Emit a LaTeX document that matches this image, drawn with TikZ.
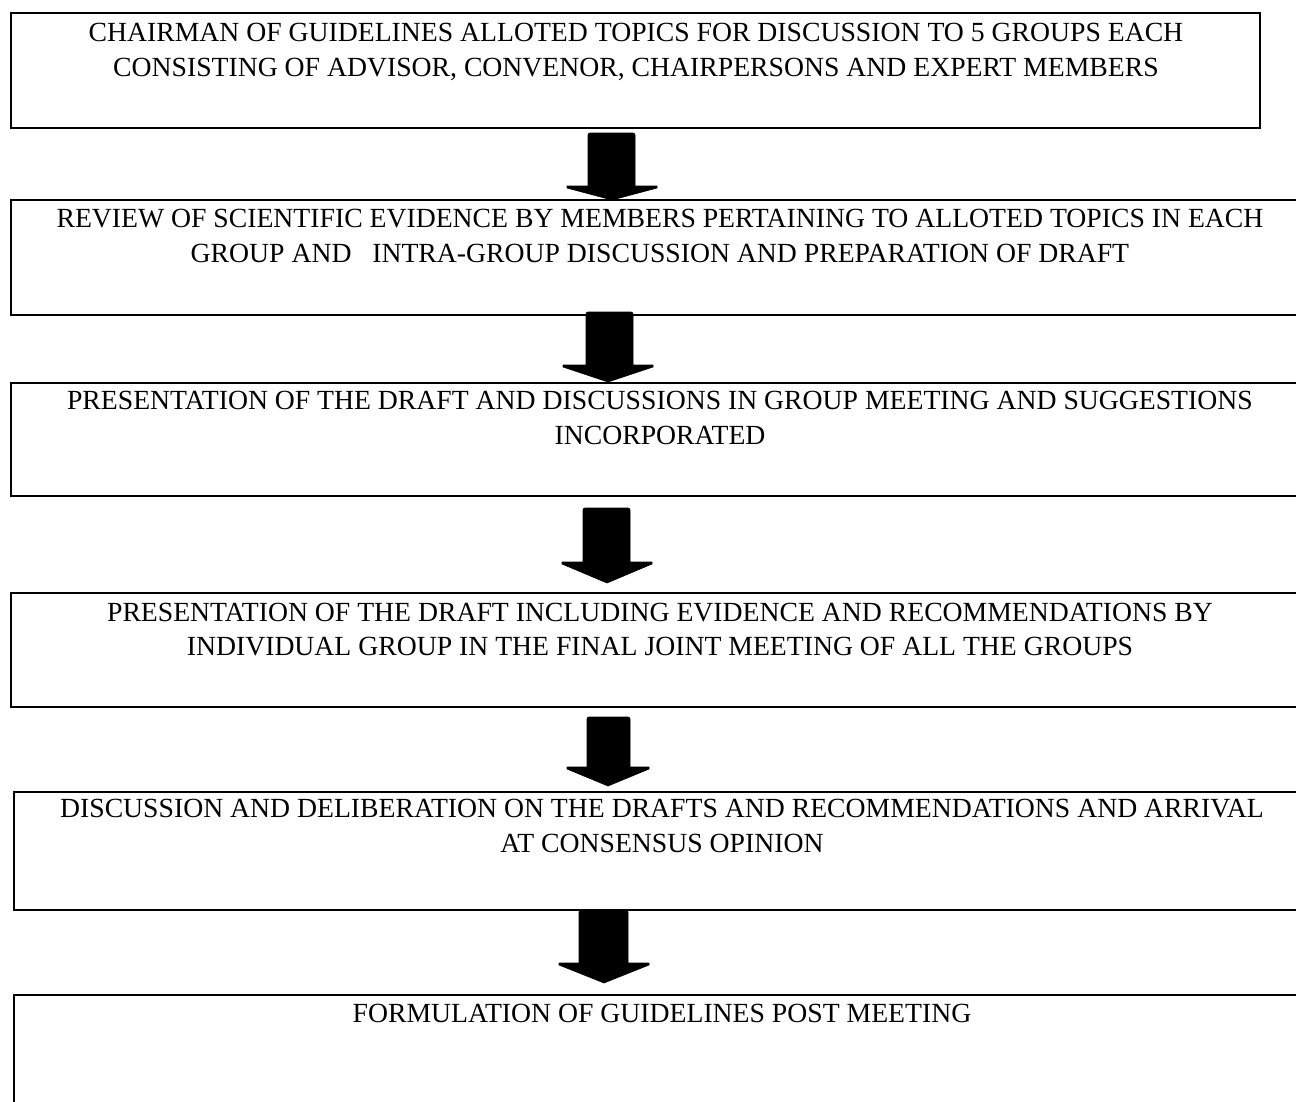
\documentclass[tikz,border=0pt]{standalone}
\usepackage{fontspec}
\setmainfont{Liberation Serif}
\begin{document}
\begin{tikzpicture}[x=1pt,y=-1pt,
  box/.style={draw=black, line width=2.3pt, fill=none, anchor=north west, inner sep=0pt, outer sep=0pt},
  txt/.style={anchor=base, inner sep=0pt, font=\fontsize{27.7}{35}\selectfont},
  blk/.style={fill=black, draw=black, line width=0.6pt, line join=round}]
\useasboundingbox (0,0) rectangle (1296,1101);
\fill[white] (0,0) rectangle (1296,1101);
% boxes
\node[box, minimum width=1249pt, minimum height=115pt] (b1) at (11,13) {};
\node[box, minimum width=1299pt, minimum height=115pt] (b2) at (11,200) {};
\node[box, minimum width=1299pt, minimum height=113pt] (b3) at (11,383) {};
\node[box, minimum width=1299pt, minimum height=114pt] (b4) at (11,593) {};
\node[box, minimum width=1296pt, minimum height=118pt] (b5) at (14,792) {};
\node[box, minimum width=1296pt, minimum height=125pt] (b6) at (14,995) {};
% texts
\node[txt] (t1a) at (636,41) {CHAIRMAN OF GUIDELINES ALLOTED TOPICS FOR DISCUSSION TO 5 GROUPS EACH};
\node[txt] (t1b) at (636,76) {CONSISTING OF ADVISOR, CONVENOR, CHAIRPERSONS AND EXPERT MEMBERS};
\node[txt] (t2a) at (660,227) {REVIEW OF SCIENTIFIC EVIDENCE BY MEMBERS PERTAINING TO ALLOTED TOPICS IN EACH};
\node[txt] (t2b) at (660,262) {GROUP AND\ \ \ INTRA-GROUP DISCUSSION AND PREPARATION OF DRAFT};
\node[txt] (t3a) at (660,409) {PRESENTATION OF THE DRAFT AND DISCUSSIONS IN GROUP MEETING AND SUGGESTIONS};
\node[txt] (t3b) at (660,444) {INCORPORATED};
\node[txt] (t4a) at (660,621) {PRESENTATION OF THE DRAFT INCLUDING EVIDENCE AND RECOMMENDATIONS BY};
\node[txt] (t4b) at (660,655) {INDIVIDUAL GROUP IN THE FINAL JOINT MEETING OF ALL THE GROUPS};
\node[txt] (t5a) at (662,817) {DISCUSSION AND DELIBERATION ON THE DRAFTS AND RECOMMENDATIONS AND ARRIVAL};
\node[txt] (t5b) at (662,852) {AT CONSENSUS OPINION};
\node[txt] (t6a) at (662,1022) {FORMULATION OF GUIDELINES POST MEETING};
% block arrows
\newcommand\blockarrow[8]{%
  \fill[blk] (#1,#3+2) [rounded corners=2pt] -- (#1,#3) -- (#2,#3) [sharp corners] -- (#2,#6)
    -- (#5,#6) -- (#5,#6+2) -- (#7,#8) -- (#4,#6+2) -- (#4,#6) -- (#1,#6) -- cycle;}
\blockarrow{588}{635}{133}{567}{657}{186}{612}{200}
\blockarrow{586}{633}{312}{563}{653}{365}{608}{382}
\blockarrow{583}{630}{508}{562}{652}{562}{607}{583}
\blockarrow{587}{630}{717}{567}{649}{767}{608}{786}
\blockarrow{579}{628}{910}{559}{649}{963}{604}{983}
\end{tikzpicture}
\end{document}
